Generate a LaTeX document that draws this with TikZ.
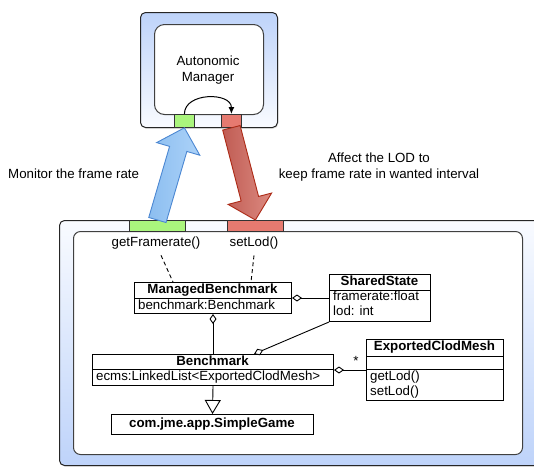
\documentclass[tikz,border=0pt]{standalone}
\usepackage{fontspec}
\setmainfont{Liberation Sans}
\usetikzlibrary{calc,arrows.meta,shadows}
\definecolor{frameblue}{RGB}{190,211,250}
\definecolor{framewhite}{RGB}{249,251,255}
\definecolor{portgreen}{RGB}{170,245,125}
\definecolor{portred}{RGB}{230,122,112}
\definecolor{monblue}{RGB}{140,190,240}
\definecolor{monblueL}{RGB}{172,210,248}
\definecolor{monedge}{RGB}{75,135,210}
\definecolor{affred}{RGB}{192,92,84}
\definecolor{affredL}{RGB}{220,138,128}
\definecolor{affedge}{RGB}{172,42,22}
\begin{document}
\begin{tikzpicture}[x=1pt,y=-1pt,
  font=\fontsize{13.3}{15.5}\selectfont,
  outerframe/.style={draw=black!85, line width=1pt, rounded corners=5pt, inner sep=0pt,
    drop shadow={opacity=0.25, shadow xshift=0.8pt, shadow yshift=-1.2pt}},
  innerframe/.style={draw=black!75, fill=white, line width=1pt, inner sep=0pt},
  port/.style={draw=black!80, line width=0.8pt, inner sep=0pt, anchor=north west},
  classbox/.style={draw=black, line width=1pt, fill=white, inner sep=0pt, anchor=north west},
  txt/.style={inner sep=0pt, text height=9.5pt, text depth=2.7pt},
  hdr/.style={txt, font=\fontsize{13.3}{15.5}\selectfont\bfseries},
  member/.style={txt, anchor=west},
  divider/.style={line width=1pt},
  assoc/.style={line width=0.9pt, {Diamond[open, length=10pt, width=7pt]}-},
  depline/.style={line width=0.9pt, dash pattern=on 4pt off 3pt},
  inherit/.style={line width=0.9pt, -{Triangle[open, length=14pt, width=16pt]}},
  monarrow/.style={draw=monedge, line width=0.9pt, left color=monblue, right color=monblueL, line join=miter},
  affarrow/.style={draw=affedge, line width=0.9pt, left color=affred, right color=affredL, line join=miter}]
\useasboundingbox (0,0) rectangle (534,467);
\clip (0,0) rectangle (534,467);

% Autonomic manager component
\node[outerframe, top color=frameblue, bottom color=framewhite,
  minimum width=137pt, minimum height=115pt, anchor=north west] (amout) at (140,12) {};
\node[innerframe, rounded corners=10pt, minimum width=109pt, minimum height=90pt,
  anchor=north west] (amin) at (154,24) {};
\node[align=center, inner sep=0pt] (amtext) at (208,70) {Autonomic\\Manager};
\node[port, fill=portgreen, minimum width=20pt, minimum height=13pt] (tgp) at (174,114) {};
\node[port, fill=portred, minimum width=20pt, minimum height=13pt] (trp) at (221,114) {};
\draw[line width=1pt, -{Latex[length=7pt, width=6pt]}]
  (tgp.north) .. controls ([yshift=22pt]tgp.north) and ([yshift=22pt]trp.north) .. (trp.north);

% Managed application component
\node[outerframe, top color=framewhite, bottom color=frameblue,
  minimum width=490pt, minimum height=245pt, anchor=north west] (appout) at (59,220) {};
\node[innerframe, rounded corners=7pt, minimum width=449pt, minimum height=223pt,
  anchor=north west] (appin) at (73,231) {};
\node[port, fill=portgreen, minimum width=56pt, minimum height=11pt] (lgp) at (129,220) {};
\node[port, fill=portred, minimum width=56pt, minimum height=11pt] (lrp) at (227,220) {};

% Monitoring arrow (up) and effector arrow (down)
\coordinate (mh) at ($(tgp.south)!22pt!(lgp.north)$);
\draw[monarrow]
  ($(lgp.north)!9pt!90:(tgp.south)$) -- ($(mh)!9pt!90:(tgp.south)$) --
  ($(mh)!22.5pt!90:(tgp.south)$) -- (tgp.south) --
  ($(mh)!22.5pt!-90:(tgp.south)$) -- ($(mh)!9pt!-90:(tgp.south)$) --
  ($(lgp.north)!9pt!-90:(tgp.south)$) -- cycle;
\coordinate (ah) at ($(lrp.north)!22pt!(trp.south)$);
\draw[affarrow]
  ($(trp.south)!9pt!90:(lrp.north)$) -- ($(ah)!9pt!90:(lrp.north)$) --
  ($(ah)!22.5pt!90:(lrp.north)$) -- (lrp.north) --
  ($(ah)!22.5pt!-90:(lrp.north)$) -- ($(ah)!9pt!-90:(lrp.north)$) --
  ($(trp.south)!9pt!-90:(lrp.north)$) -- cycle;

\node[txt, anchor=west] (montext) at (8,175) {Monitor the frame rate};
\node[align=center, inner sep=0pt] (afftext) at (379,167) {Affect the LOD to\\keep frame rate in wanted interval};

% Interface operations
\node[txt] (gf) at (156,243) {getFramerate()};
\node[txt] (sl) at (254,243) {setLod()};

% Classes
\node[classbox, minimum width=157pt, minimum height=31pt] (mb) at (134,282) {};
\draw[divider] ([yshift=-16pt]mb.north west) -- ([yshift=-16pt]mb.north east);
\node[hdr] (mbh) at (212.5,290) {ManagedBenchmark};
\node[member] (mba) at (138,306) {benchmark:Benchmark};

\node[classbox, minimum width=101pt, minimum height=47pt] (ss) at (329,274) {};
\draw[divider] ([yshift=-16pt]ss.north west) -- ([yshift=-16pt]ss.north east);
\node[hdr] (ssh) at (379.5,282) {SharedState};
\node[member] (ssa) at (333,297) {framerate:float};
\node[member] (ssb) at (333,312) {lod: int};

\node[classbox, minimum width=241pt, minimum height=31pt] (bm) at (92,354) {};
\draw[divider] ([yshift=-15pt]bm.north west) -- ([yshift=-15pt]bm.north east);
\node[hdr] (bmh) at (212.5,362) {Benchmark};
\node[member] (bma) at (96,377) {ecms:LinkedList<ExportedClodMesh>};

\node[classbox, minimum width=137pt, minimum height=61pt] (ecm) at (366,339) {};
\draw[divider] ([yshift=-17pt]ecm.north west) -- ([yshift=-17pt]ecm.north east);
\draw[divider] ([yshift=-30pt]ecm.north west) -- ([yshift=-30pt]ecm.north east);
\node[hdr] (ecmh) at (434.5,347.5) {ExportedClodMesh};
\node[member] (ecma) at (370,377) {getLod()};
\node[member] (ecmb) at (370,392) {setLod()};

\node[classbox, minimum width=202pt, minimum height=20pt] (sg) at (111,414) {};
\node[hdr] (sgt) at (212,424) {com.jme.app.SimpleGame};

% Relations
\draw[depline] ($(gf.south)+(5,6)$) -- ($(mb.north west)+(39,0)$);
\draw[depline] ($(sl.south)+(0,6)$) -- ($(mb.north west)+(117,0)$);
\draw[assoc] (mb.east) -- (ss.west |- mb.east);
\draw[assoc] (mb.south) -- (bm.north);
\draw[assoc] ($(bm.north west)+(162,0)$) -- (ss.south west);
\draw[assoc] (bm.east) -- (ecm.west |- bm.east);
\node[txt] (mult) at (356,362) {*};
\draw[inherit] (bm.south) -- (sg.north);
\end{tikzpicture}
\end{document}
